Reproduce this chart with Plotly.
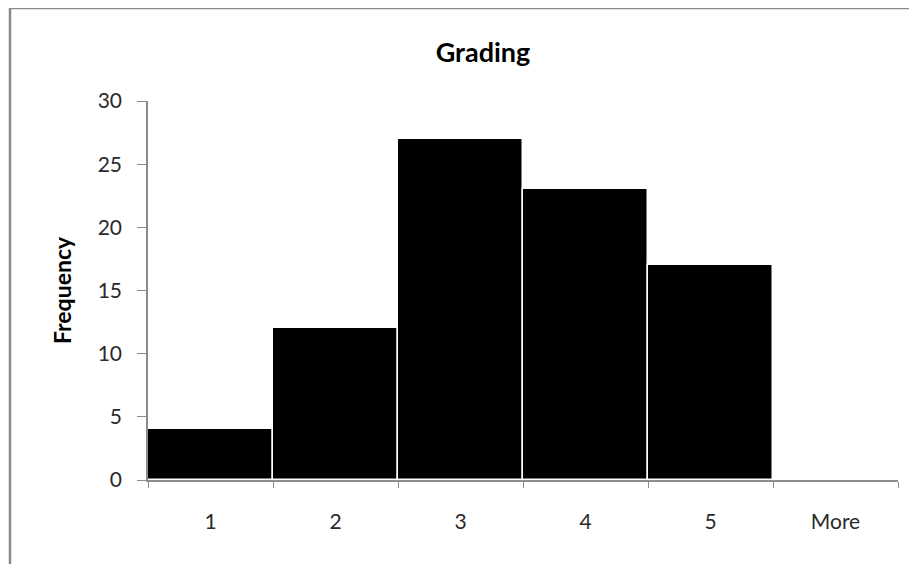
import plotly.graph_objects as go

categories = ["1", "2", "3", "4", "5", "More"]
frequency = [4, 12, 27, 23, 17, 0]
y_ticks = [0, 5, 10, 15, 20, 25, 30]

OFF = 8  # browser body margin
W, H = 917 - OFF, 564 - OFF
L, R, T, B = 148 - OFF, 917 - 898, 101 - OFF, 564 - 480
pw, ph = W - L - R, H - T - B

fig = go.Figure(go.Bar(
    x=categories, y=frequency,
    marker=dict(color="black", line=dict(color="white", width=1.5)),
))

fig.update_layout(
    width=W, height=H,
    margin=dict(l=L, r=R, t=T, b=B),
    paper_bgcolor="white", plot_bgcolor="white",
    bargap=0, showlegend=False,
    font=dict(family="Lato, 'Open Sans', sans-serif", color="#2a2a2a", size=21),
    title=dict(text="<b>Grading</b>", x=(483 - OFF) / W, xanchor="center",
               y=1 - (53 - OFF) / H, yanchor="middle",
               font=dict(size=27, color="black")),
)
fig.update_xaxes(
    type="category", showline=True, linecolor="#8c8c8c", linewidth=1.5,
    ticks="outside", tickson="boundaries", ticklen=6, tickcolor="#8c8c8c",
    ticklabelstandoff=22, showgrid=False, zeroline=False,
    range=[-0.5, 5.5],
)
fig.update_yaxes(
    range=[0, 30], tickvals=y_ticks, showline=True, linecolor="#8c8c8c",
    linewidth=1.5, ticks="outside", ticklen=9, tickcolor="#8c8c8c",
    ticklabelstandoff=11, showgrid=False, zeroline=False,
)

# y-axis title
fig.add_annotation(text="<b>Frequency</b>", textangle=-90, showarrow=False,
                   xref="paper", yref="paper",
                   x=(62 - 148) / pw, y=(480 - 290) / ph,
                   xanchor="center", yanchor="middle",
                   font=dict(size=23, color="black"))

# chart border (outer frame, cropped at right/bottom)
fig.add_shape(type="rect", xref="paper", yref="paper",
              x0=(10 - 148) / pw, x1=(917 + 20 - 148) / pw,
              y0=-(B + 20) / ph, y1=1 + (101 - 8) / ph,
              line=dict(color="#8a8a8a", width=2.5), layer="below")

fig.write_html("out.html")
